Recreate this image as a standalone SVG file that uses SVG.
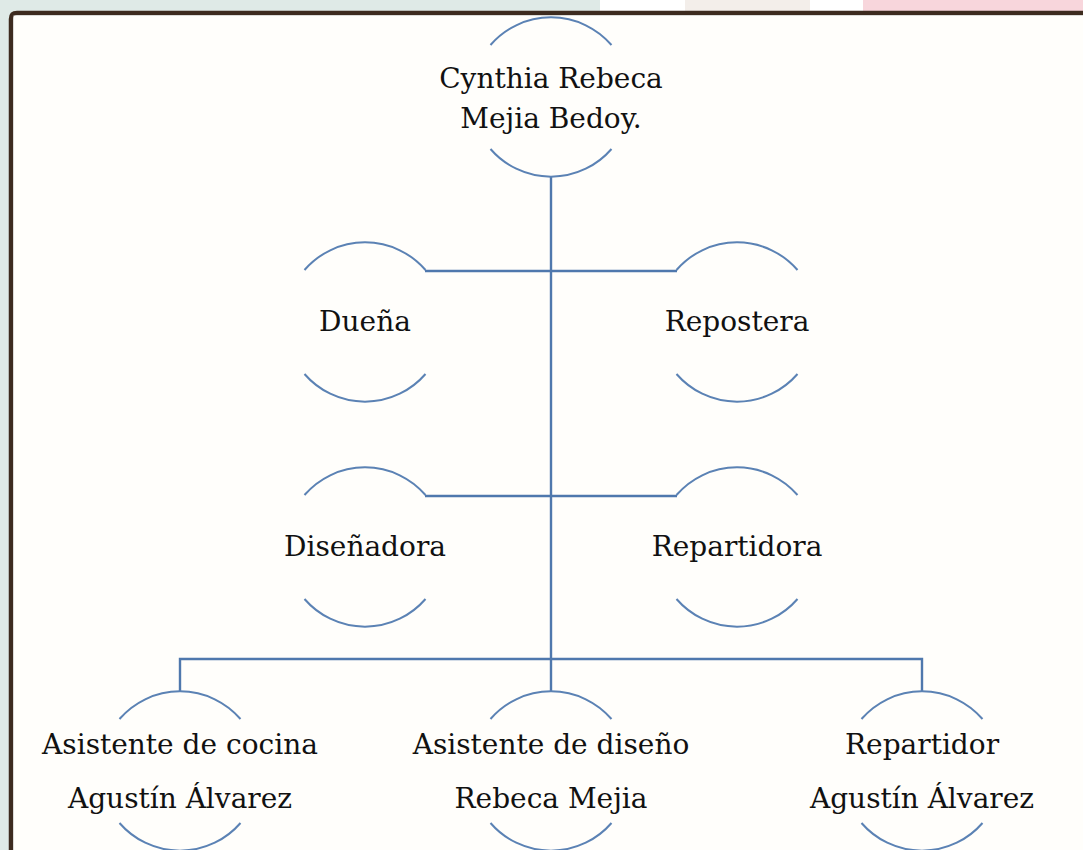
<svg xmlns="http://www.w3.org/2000/svg" width="1083" height="850" viewBox="0 0 1083 850">
<style>
.arc{fill:none;stroke:#5b82b4;stroke-width:2}
.con{fill:none;stroke:#4f78ad;stroke-width:2.4}
text{font-family:"DejaVu Serif","Liberation Serif",serif;font-size:28px;fill:#111111;text-anchor:middle}
</style>
<defs>
<g id="ring">
<path d="M-60.5,-52 A80,80 0 0 1 60.5,-52"/>
<path d="M-60.5,52 A80,80 0 0 0 60.5,52"/>
</g>
</defs>
<rect x="0" y="0" width="1083" height="850" fill="#dfeae7"/>
<rect x="600" y="0" width="85" height="12" fill="#ffffff"/>
<rect x="685" y="0" width="125" height="12" fill="#f3eeea"/>
<rect x="810" y="0" width="53" height="12" fill="#ffffff"/>
<rect x="863" y="0" width="220" height="12" fill="#f8d6dc"/>
<path d="M11,860 L11,19 Q11,13 17,13 L1090,13" fill="none" stroke="#3d2b1f" stroke-width="4.5"/>
<rect x="13.5" y="15.5" width="1075" height="840" fill="#fffefb"/>
<g id="connectors" class="con">
<line x1="551" y1="177" x2="551" y2="692"/>
<line x1="425" y1="271" x2="677" y2="271"/>
<line x1="425" y1="496" x2="677" y2="496"/>
<polyline points="180,692 180,659 922,659 922,692"/>
</g>
<g id="n-cynthia"><use href="#ring" class="arc" x="551" y="97"/><text x="551" y="88">Cynthia Rebeca</text><text x="551" y="128">Mejia Bedoy.</text></g>
<g id="n-duena"><use href="#ring" class="arc" x="365" y="322"/><text x="365" y="331">Dueña</text></g>
<g id="n-repostera"><use href="#ring" class="arc" x="737" y="322"/><text x="737" y="331">Repostera</text></g>
<g id="n-disenadora"><use href="#ring" class="arc" x="365" y="547"/><text x="365" y="556">Diseñadora</text></g>
<g id="n-repartidora"><use href="#ring" class="arc" x="737" y="547"/><text x="737" y="556">Repartidora</text></g>
<g id="n-cocina"><use href="#ring" class="arc" x="180" y="771"/><text x="180" y="754">Asistente de cocina</text><text x="180" y="808">Agustín Álvarez</text></g>
<g id="n-diseno"><use href="#ring" class="arc" x="551" y="771"/><text x="551" y="754">Asistente de diseño</text><text x="551" y="808">Rebeca Mejia</text></g>
<g id="n-repartidor"><use href="#ring" class="arc" x="922" y="771"/><text x="922" y="754">Repartidor</text><text x="922" y="808">Agustín Álvarez</text></g>
</svg>
